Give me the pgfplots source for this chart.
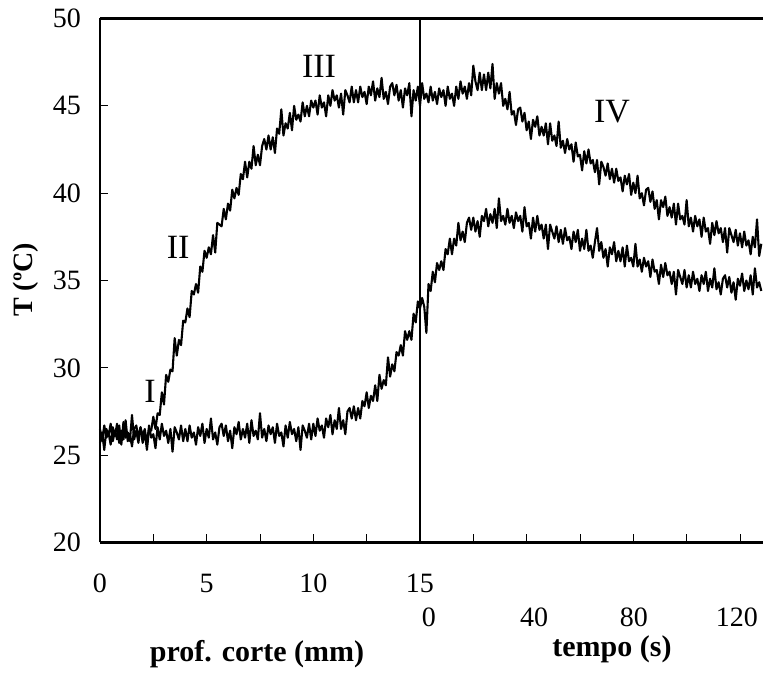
\documentclass[border=0pt]{standalone}
\usepackage{fontspec}
\setmainfont{Liberation Serif}
\usepackage{pgfplots}
\pgfplotsset{compat=1.18}
\usetikzlibrary{calc}
\begin{document}
\begin{tikzpicture}
\begin{axis}[name=ax, at={(0,0)}, anchor=south west,
  scale only axis, width=663pt, height=524pt,
  xmin=0, xmax=31.08, ymin=20, ymax=50,
  axis x line*=box, axis y line*=left,
  xtick pos=left, ytick pos=left,
  axis line style={line width=2.2pt, black},
  xtick={0,2.5,...,30}, xticklabels={0,,5,,10,,15,,,,,,},
  ytick={20,25,...,50},
  tick style={line width=0.8pt, black},
  major tick length=8pt, tick align=inside,
  /pgf/number format/assume math mode=true,
  xticklabel style={font=\fontsize{28}{30}\selectfont, anchor=base, yshift=-50.5pt},
  yticklabel style={font=\fontsize{28}{30}\selectfont, anchor=east, inner sep=0pt, xshift=-19pt},
  clip=false]
\addplot[black, line width=2.1pt, line join=round] coordinates {
(0,26.5)(0.1,25.8)(0.2,26.7)(0.3,26.0)(0.4,26.3)(0.5,25.6)(0.6,26.6)(0.7,26.1)(0.8,26.8)(0.9,25.7)
(1,26.4)(1.1,25.9)(1.2,27.0)(1.3,25.8)(1.4,26.2)(1.5,25.5)(1.6,26.5)(1.7,26.7)(1.8,26.0)(1.9,26.6)
(2,25.7)(2.1,26.3)(2.2,25.3)(2.3,26.5)(2.4,26.4)(2.5,27.2)(2.6,26.5)(2.7,27.4)(2.8,27.3)(2.9,28.6)
(3,27.9)(3.1,29.6)(3.2,29.2)(3.3,29.9)(3.4,29.8)(3.5,31.7)(3.6,30.7)(3.7,31.6)(3.8,31.3)(3.9,32.7)
(4,32.6)(4.1,33.4)(4.2,32.9)(4.3,34.4)(4.4,34.2)(4.5,34.8)(4.6,34.3)(4.7,35.8)(4.8,35.5)(4.9,36.7)
(5,36.3)(5.1,36.9)(5.2,36.5)(5.3,37.6)(5.4,36.6)(5.5,38.3)(5.6,38.2)(5.7,38.1)(5.8,39.1)(5.9,38.5)
(6,39.4)(6.1,39.0)(6.2,40.2)(6.3,39.7)(6.4,40.3)(6.5,39.9)(6.6,41.1)(6.7,40.8)(6.8,41.8)(6.9,40.9)
(7,41.8)(7.1,41.4)(7.2,42.7)(7.3,41.6)(7.4,42.2)(7.5,41.6)(7.6,42.7)(7.7,43.1)(7.8,42.5)(7.9,43.3)
(8,42.5)(8.1,43.2)(8.2,42.3)(8.3,43.7)(8.4,43.4)(8.5,44.8)(8.6,43.3)(8.7,44.0)(8.8,43.7)(8.9,44.6)
(9,43.6)(9.1,45.0)(9.2,44.2)(9.3,44.5)(9.4,44.1)(9.5,45.2)(9.6,44.4)(9.7,45.0)(9.8,44.4)(9.9,45.3)
(10,44.9)(10.1,45.3)(10.2,44.5)(10.3,45.6)(10.4,44.9)(10.5,45.2)(10.6,44.4)(10.7,45.6)(10.8,45.0)(10.9,45.9)
(11,45.3)(11.1,45.6)(11.2,44.9)(11.3,45.7)(11.4,44.5)(11.5,45.9)(11.6,45.6)(11.7,45.2)(11.8,46.1)(11.9,45.2)
(12,45.9)(12.1,45.2)(12.2,46.1)(12.3,45.5)(12.4,45.8)(12.5,45.1)(12.6,46.1)(12.7,45.6)(12.8,46.4)(12.9,45.3)
(13,46.0)(13.1,45.5)(13.2,46.6)(13.3,45.4)(13.4,45.8)(13.5,45.1)(13.6,46.1)(13.7,46.3)(13.8,45.6)(13.9,46.2)
(14,45.3)(14.1,45.9)(14.2,44.9)(14.3,46.0)(14.4,45.6)(14.5,46.3)(14.6,44.4)(14.7,45.9)(14.8,45.3)(14.9,46.1)
(15,45.0)(15.1,46.3)(15.2,45.4)(15.3,45.7)(15.4,45.2)(15.5,46.1)(15.6,45.3)(15.7,45.8)(15.8,45.1)(15.9,46.0)
(16,45.5)(16.1,45.9)(16.2,45.0)(16.3,46.1)(16.4,45.4)(16.5,45.7)(16.6,45.0)(16.7,46.1)(16.8,45.4)(16.9,46.4)
(17,45.7)(17.1,46.1)(17.2,45.4)(17.3,46.3)(17.4,45.6)(17.5,47.3)(17.6,46.4)(17.7,45.9)(17.8,46.9)(17.9,45.9)
(18,46.8)(18.1,45.9)(18.2,46.9)(18.3,46.0)(18.4,47.4)(18.5,45.4)(18.6,46.3)(18.7,45.7)(18.8,46.3)(18.9,45.0)
(19,45.4)(19.1,44.8)(19.2,45.8)(19.3,44.5)(19.4,44.7)(19.5,43.9)(19.6,44.8)(19.7,44.9)(19.8,44.1)(19.9,44.6)
(20,43.6)(20.1,44.1)(20.2,43.1)(20.3,44.2)(20.4,43.8)(20.5,44.4)(20.6,43.3)(20.7,43.8)(20.8,43.3)(20.9,44.0)
(21,42.8)(21.1,44.0)(21.2,43.0)(21.3,43.3)(21.4,42.7)(21.5,44.1)(21.6,42.6)(21.7,43.0)(21.8,42.3)(21.9,43.1)
(22,42.5)(22.1,42.8)(22.2,41.8)(22.3,42.9)(22.4,42.1)(22.5,42.2)(22.6,41.3)(22.7,42.4)(22.8,41.7)(22.9,42.5)
(23,41.7)(23.1,41.9)(23.2,41.2)(23.3,41.9)(23.4,40.5)(23.5,41.8)(23.6,41.5)(23.7,41.0)(23.8,41.7)(23.9,40.8)
(24,41.4)(24.1,40.6)(24.2,41.4)(24.3,40.7)(24.4,40.9)(24.5,40.1)(24.6,41.0)(24.7,40.5)(24.8,41.1)(24.9,39.9)
(25,40.6)(25.1,40.0)(25.2,41.0)(25.3,39.7)(25.4,40.0)(25.5,39.3)(25.6,40.2)(25.7,40.3)(25.8,39.5)(25.9,40.1)
(26,39.1)(26.1,39.6)(26.2,38.5)(26.3,39.6)(26.4,39.2)(26.5,39.8)(26.6,38.7)(26.7,39.2)(26.8,38.6)(26.9,39.4)
(27,38.2)(27.1,39.4)(27.2,38.5)(27.3,38.7)(27.4,38.2)(27.5,39.6)(27.6,38.1)(27.7,38.6)(27.8,37.8)(27.9,38.7)
(28,38.1)(28.1,38.5)(28.2,37.5)(28.3,38.6)(28.4,37.8)(28.5,38.0)(28.6,37.1)(28.7,38.3)(28.8,37.6)(28.9,38.4)
(29,37.7)(29.1,38.0)(29.2,37.2)(29.3,38.0)(29.4,36.6)(29.5,38.0)(29.6,37.6)(29.7,37.2)(29.8,37.9)(29.9,37.0)
(30,37.7)(30.1,36.9)(30.2,37.8)(30.3,37.0)(30.4,37.3)(30.5,36.5)(30.6,37.5)(30.7,36.9)(30.8,38.5)(30.9,36.4)(31,37.1)
};
\addplot[black, line width=2.1pt, line join=round] coordinates {
(0,25.7)(0.1,26.3)(0.2,25.3)(0.3,26.5)(0.4,26.1)(0.5,26.8)(0.6,25.8)(0.7,26.4)(0.8,25.9)(0.9,26.7)
(1,25.6)(1.1,26.9)(1.2,26.0)(1.3,26.3)(1.4,25.8)(1.5,27.3)(1.6,25.9)(1.7,26.4)(1.8,25.7)(1.9,26.6)
(2,26.1)(2.1,26.5)(2.2,25.6)(2.3,26.7)(2.4,26.0)(2.5,26.2)(2.6,25.4)(2.7,26.6)(2.8,25.9)(2.9,26.8)
(3,26.1)(3.1,26.4)(3.2,25.7)(3.3,26.5)(3.4,25.2)(3.5,26.6)(3.6,26.3)(3.7,25.9)(3.8,26.7)(3.9,25.8)
(4,26.5)(4.1,25.8)(4.2,26.7)(4.3,26.0)(4.4,26.3)(4.5,25.6)(4.6,26.6)(4.7,26.1)(4.8,26.8)(4.9,25.7)
(5,26.5)(5.1,26.0)(5.2,27.1)(5.3,25.9)(5.4,26.3)(5.5,25.6)(5.6,26.6)(5.7,26.8)(5.8,26.1)(5.9,26.7)
(6,25.8)(6.1,26.4)(6.2,25.4)(6.3,26.6)(6.4,26.2)(6.5,26.9)(6.6,25.9)(6.7,26.5)(6.8,26.0)(6.9,26.8)
(7,25.7)(7.1,27.0)(7.2,26.1)(7.3,26.4)(7.4,25.9)(7.5,27.4)(7.6,26.0)(7.7,26.5)(7.8,25.8)(7.9,26.7)
(8,26.2)(8.1,26.6)(8.2,25.7)(8.3,26.8)(8.4,26.1)(8.5,26.3)(8.6,25.5)(8.7,26.7)(8.8,26.0)(8.9,26.9)
(9,26.2)(9.1,26.5)(9.2,25.8)(9.3,26.6)(9.4,25.3)(9.5,26.7)(9.6,26.4)(9.7,26.0)(9.8,26.8)(9.9,25.9)
(10,26.8)(10.1,26.1)(10.2,27.1)(10.3,26.4)(10.4,26.7)(10.5,26.0)(10.6,27.1)(10.7,26.6)(10.8,27.3)(10.9,26.2)
(11,27.0)(11.1,26.5)(11.2,27.7)(11.3,26.5)(11.4,27.0)(11.5,26.2)(11.6,27.5)(11.7,27.7)(11.8,27.1)(11.9,27.8)
(12,27.0)(12.1,27.7)(12.2,27.1)(12.3,28.1)(12.4,27.8)(12.5,28.6)(12.6,27.7)(12.7,28.4)(12.8,28.1)(12.9,29.0)
(13,28.1)(13.1,29.6)(13.2,28.8)(13.3,29.3)(13.4,29.0)(13.5,30.6)(13.6,29.5)(13.7,30.2)(13.8,29.8)(13.9,30.9)
(14,30.7)(14.1,31.3)(14.2,30.7)(14.3,32.1)(14.4,31.6)(14.5,32.1)(14.6,31.6)(14.7,33.1)(14.8,32.6)(14.9,33.8)
(15,33.4)(15.1,34.0)(15.2,33.5)(15.3,32.0)(15.4,34.8)(15.5,34.4)(15.6,35.5)(15.7,34.9)(15.8,36.0)(15.9,35.6)
(16,36.1)(16.1,35.6)(16.2,36.8)(16.3,36.5)(16.4,37.4)(16.5,36.5)(16.6,37.4)(16.7,37.0)(16.8,38.3)(16.9,37.3)
(17,37.8)(17.1,37.2)(17.2,38.3)(17.3,38.6)(17.4,37.9)(17.5,38.6)(17.6,37.8)(17.7,38.4)(17.8,37.5)(17.9,38.7)
(18,38.4)(18.1,39.1)(18.2,38.1)(18.3,38.8)(18.4,38.3)(18.5,39.1)(18.6,38.0)(18.7,39.7)(18.8,38.4)(18.9,38.7)
(19,38.2)(19.1,39.1)(19.2,38.3)(19.3,38.7)(19.4,38.0)(19.5,38.9)(19.6,38.4)(19.7,38.7)(19.8,37.8)(19.9,39.2)
(20,38.1)(20.1,38.3)(20.2,37.4)(20.3,38.6)(20.4,37.8)(20.5,38.7)(20.6,37.9)(20.7,38.2)(20.8,37.4)(20.9,38.2)
(21,36.8)(21.1,38.2)(21.2,37.8)(21.3,37.4)(21.4,38.1)(21.5,37.2)(21.6,37.9)(21.7,37.1)(21.8,38.0)(21.9,37.3)
(22,37.5)(22.1,36.8)(22.2,37.8)(22.3,37.2)(22.4,37.9)(22.5,36.7)(22.6,37.4)(22.7,36.8)(22.8,37.9)(22.9,36.7)
(23,37.0)(23.1,36.3)(23.2,37.2)(23.3,38.0)(23.4,36.7)(23.5,37.2)(23.6,36.3)(23.7,36.8)(23.8,35.8)(23.9,36.9)
(24,36.5)(24.1,37.2)(24.2,36.1)(24.3,36.7)(24.4,36.1)(24.5,36.9)(24.6,35.8)(24.7,37.0)(24.8,36.1)(24.9,36.3)
(25,35.8)(25.1,37.1)(25.2,35.8)(25.3,36.2)(25.4,35.5)(25.5,36.3)(25.6,35.8)(25.7,36.1)(25.8,35.2)(25.9,36.2)
(26,35.5)(26.1,35.6)(26.2,34.8)(26.3,35.9)(26.4,35.2)(26.5,36.0)(26.6,35.3)(26.7,35.5)(26.8,34.8)(26.9,35.5)
(27,34.2)(27.1,35.6)(27.2,35.2)(27.3,34.8)(27.4,35.6)(27.5,34.6)(27.6,35.3)(27.7,34.6)(27.8,35.5)(27.9,34.8)
(28,35.1)(28.1,34.4)(28.2,35.3)(28.3,34.8)(28.4,35.5)(28.5,34.4)(28.6,35.1)(28.7,34.6)(28.8,35.7)(28.9,34.5)
(29,34.9)(29.1,34.2)(29.2,35.1)(29.3,35.3)(29.4,34.6)(29.5,35.2)(29.6,34.3)(29.7,34.9)(29.8,33.9)(29.9,35.1)
(30,34.7)(30.1,35.4)(30.2,34.4)(30.3,35.0)(30.4,34.5)(30.5,35.3)(30.6,34.2)(30.7,35.7)(30.8,34.6)(30.9,34.9)(31,34.4)
};
\draw[line width=2.2pt] (axis cs:15,20) -- (axis cs:15,50);
\node[font=\fontsize{28}{30}\selectfont, anchor=base, yshift=-84.5pt] at (axis cs:15.42,20) {0};
\node[font=\fontsize{28}{30}\selectfont, anchor=base, yshift=-84.5pt] at (axis cs:20.35,20) {40};
\node[font=\fontsize{28}{30}\selectfont, anchor=base, yshift=-84.5pt] at (axis cs:25.03,20) {80};
\node[font=\fontsize{28}{30}\selectfont, anchor=base, yshift=-84.5pt] at (axis cs:29.86,20) {120};
\node[font=\fontsize{30}{32}\selectfont\bfseries, anchor=base, yshift=-119.5pt] at (axis cs:7.36,20) {prof. corte (mm)};
\node[font=\fontsize{30}{32}\selectfont\bfseries, anchor=base, yshift=-114.5pt] at (axis cs:24.0,20) {tempo (s)};
\node[font=\fontsize{28}{30}\selectfont\bfseries, rotate=90] at (axis cs:-3.47,35.04) {T (ºC)};
\node[font=\fontsize{34}{36}\selectfont] at (axis cs:2.34,28.68) {I};
\node[font=\fontsize{34}{36}\selectfont] at (axis cs:3.66,36.88) {II};
\node[font=\fontsize{34}{36}\selectfont] at (axis cs:10.27,47.28) {III};
\node[font=\fontsize{34}{36}\selectfont] at (axis cs:24.0,44.64) {IV};
\end{axis}
\pgfresetboundingbox
\path[use as bounding box] ($(ax.south west)+(-100pt,-130.5pt)$) rectangle ($(ax.north east)+(0pt,18.5pt)$);
\end{tikzpicture}
\end{document}
